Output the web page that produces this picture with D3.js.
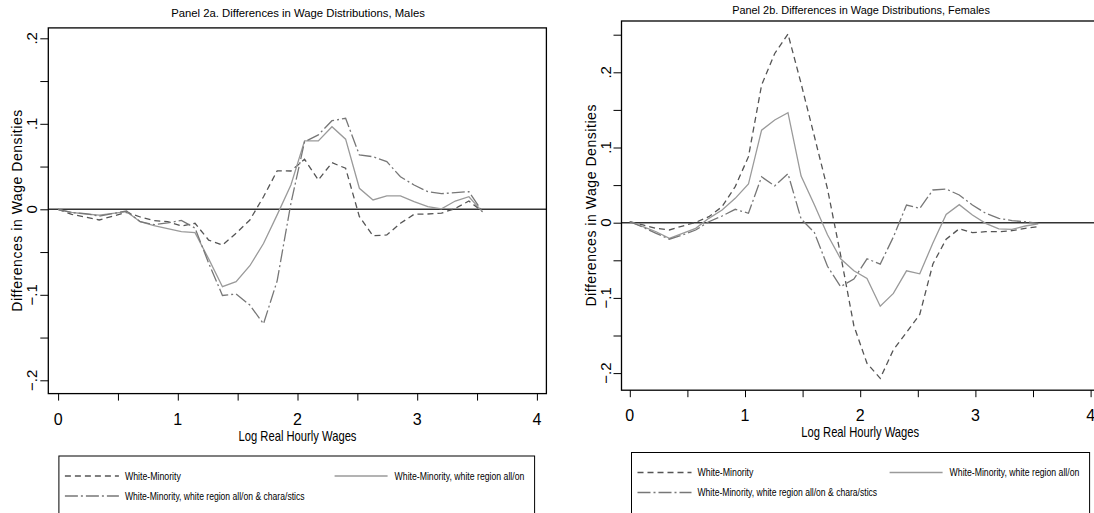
<!DOCTYPE html>
<html>
<head>
<meta charset="utf-8">
<script src="https://cdn.jsdelivr.net/npm/d3@7"></script>
<style>
  body { margin: 0; background: #fff; }
  text { font-family: "Liberation Sans", Arial, Helvetica, sans-serif; fill: #000; }
</style>
</head>
<body>
<script>
// grid of log real hourly wages where the densities were evaluated
var wages = [0, 0.114, 0.229, 0.343, 0.458, 0.572, 0.686, 0.801, 0.915, 1.03, 1.144, 1.258,
  1.373, 1.487, 1.602, 1.716, 1.83, 1.945, 2.059, 2.174, 2.288, 2.402, 2.517, 2.631,
  2.746, 2.86, 2.974, 3.089, 3.203, 3.318, 3.432, 3.546];

var seriesNames = [
  "White-Minority",
  "White-Minority, white region all/on",
  "White-Minority, white region all/on & chara/stics",
];

// Panel 2a, males
var maleRaw = [0, -0.006, -0.009, -0.0125, -0.008, -0.0035, -0.009, -0.0133, -0.0145, -0.0195, -0.0164, -0.036,
  -0.0418, -0.028, -0.0125, 0.0147, 0.045, 0.0448, 0.0585, 0.0343, 0.0545, 0.048, -0.0086, -0.031,
  -0.03, -0.0164, -0.0058, -0.0055, -0.0045, 0.001, 0.0097, -0.0028];
var maleRegion = [0, -0.0035, -0.0055, -0.0067, -0.0047, -0.0028, -0.0145, -0.019, -0.0225, -0.026, -0.0273, -0.058,
  -0.0905, -0.0847, -0.066, -0.04, -0.0065, 0.0284, 0.08, 0.08, 0.0966, 0.082, 0.0246, 0.0109,
  0.0156, 0.0156, 0.0089, 0.003, 0.0005, 0.0097, 0.0147, -0.003];
var maleChars = [0, -0.004, -0.005, -0.008, -0.005, -0.002, -0.0145, -0.018, -0.016, -0.013, -0.022, -0.063,
  -0.1008, -0.099, -0.112, -0.134, -0.0837, 0.007, 0.079, 0.087, 0.1036, 0.1064, 0.0635, 0.0615,
  0.0557, 0.038, 0.0284, 0.0206, 0.0183, 0.0195, 0.0206, -0.003];

// Panel 2b, females
var femaleRaw = [0.0013, -0.003, -0.0075, -0.0097, -0.0044, 0.0005, 0.008, 0.0213, 0.048, 0.0878, 0.183, 0.225,
  0.251, 0.185, 0.115, 0.045, -0.043, -0.137, -0.187, -0.207, -0.169, -0.146, -0.122, -0.055,
  -0.022, -0.008, -0.0132, -0.012, -0.012, -0.0106, -0.0075, -0.0053];
var femaleRegion = [0.0013, -0.0053, -0.012, -0.0208, -0.0141, -0.0075, 0.0058, 0.0169, 0.0324, 0.0514, 0.123, 0.1366,
  0.1463, 0.062, 0.024, -0.016, -0.048, -0.064, -0.074, -0.111, -0.094, -0.064, -0.068, -0.027,
  0.011, 0.024, 0.0102, -0.0009, -0.0082, -0.0088, -0.0044, -0.0017];
var femaleChars = [0.0013, -0.006, -0.0141, -0.022, -0.0164, -0.0097, 0.0013, 0.0089, 0.0178, 0.0125, 0.061, 0.049,
  0.0652, 0.005, -0.013, -0.058, -0.085, -0.075, -0.048, -0.055, -0.019, 0.0235, 0.019, 0.0435,
  0.0448, 0.0368, 0.0235, 0.0125, 0.0058, 0.0027, 0.0013, -0.0008];

var xTicks = [0, 0.5, 1, 1.5, 2, 2.5, 3, 3.5, 4];
var xLabels = [0, 1, 2, 3, 4];
var maleYTicks = [-0.2, -0.15, -0.1, -0.05, 0, 0.05, 0.1, 0.15, 0.2];
var femaleYTicks = [-0.2, -0.15, -0.1, -0.05, 0, 0.05, 0.1, 0.15, 0.2, 0.25];
var yLabels = [-0.2, -0.1, 0, 0.1, 0.2];

var lineStyles = [
  { color: "#555", dash: "6,4", width: 1.3 },
  { color: "#9a9a9a", dash: null, width: 1.3 },
  { color: "#777", dash: "13,3,2,3", width: 1.3 },
];

var svg = d3.select("body").append("svg").attr("width", 1094).attr("height", 513);

function yFmt(d) {
  if (d == 0) return "0";
  return d3.format(".1f")(d).replace("0.", ".");
}

// narrow text: squeeze horizontally so it takes the width seen in the picture
// anchor: "start" -> x is left edge, "middle" -> x is centre
function narrowText(parent, txt, x, y, size, w, anchor) {
  var t = parent.append("text")
    .attr("font-size", size)
    .attr("text-anchor", anchor)
    .text(txt);
  var natural = t.node().getComputedTextLength();
  var k = w / natural;
  t.attr("transform", "translate(" + x + "," + y + ") scale(" + k + ",1)");
  return t;
}

function drawPanel(p) {
  // p.frame = [left, top, right, bottom]
  var left = p.frame[0], top = p.frame[1], right = p.frame[2], bottom = p.frame[3];

  var x = d3.scaleLinear().domain([0, 4]).range([p.x0, p.x4]);
  var y = d3.scaleLinear().domain([-0.2, 0.2]).range([p.yLow, p.yHigh]);

  var g = svg.append("g");

  narrowText(g, p.title, p.titleX, p.titleY, 11.5, p.titleW, "middle");

  var clip = "clip" + p.id;
  g.append("clipPath").attr("id", clip)
    .append("rect").attr("x", left).attr("y", top).attr("width", right - left).attr("height", bottom - top);

  // zero reference line
  g.append("line")
    .attr("x1", left).attr("x2", right)
    .attr("y1", y(0)).attr("y2", y(0))
    .attr("stroke", "#333").attr("stroke-width", 1.6);

  var line = d3.line()
    .x(function (d) { return x(d[0]); })
    .y(function (d) { return y(d[1]); });

  p.series.forEach(function (s, i) {
    var pts = wages.map(function (w, j) { return [w, s[j]]; });
    g.append("path")
      .attr("d", line(pts))
      .attr("fill", "none")
      .attr("clip-path", "url(#" + clip + ")")
      .attr("stroke", lineStyles[i].color)
      .attr("stroke-width", lineStyles[i].width)
      .attr("stroke-dasharray", lineStyles[i].dash);
  });

  g.append("rect")
    .attr("x", left).attr("y", top)
    .attr("width", right - left).attr("height", bottom - top)
    .attr("fill", "none").attr("stroke", "#000").attr("stroke-width", 1.3);

  // y axis
  var yAxis = d3.axisLeft(y).tickValues(p.yTicks).tickSize(8).tickFormat("");
  var ya = g.append("g").attr("transform", "translate(" + left + ",0)").call(yAxis);
  ya.select(".domain").remove();
  ya.selectAll("line").attr("stroke", "#000");

  g.selectAll(".ylab")
    .data(yLabels)
    .enter()
    .append("text")
    .attr("class", "ylab")
    .attr("text-anchor", "middle")
    .attr("font-size", 15)
    .attr("transform", function (d) {
      return "translate(" + (left - 11) + "," + y(d) + ") rotate(-90)";
    })
    .text(yFmt);

  g.append("text")
    .attr("text-anchor", "middle")
    .attr("font-size", 14)
    .attr("textLength", 202)
    .attr("lengthAdjust", "spacing")
    .attr("transform", "translate(" + (left - 26) + "," + (top + bottom) / 2 + ") rotate(-90)")
    .text("Differences in Wage Densities");

  // x axis
  var xAxis = d3.axisBottom(x).tickValues(xTicks).tickSize(7).tickFormat("");
  var xa = g.append("g").attr("transform", "translate(0," + bottom + ")").call(xAxis);
  xa.select(".domain").remove();
  xa.selectAll("line").attr("stroke", "#000");

  g.selectAll(".xlab")
    .data(xLabels)
    .enter()
    .append("text")
    .attr("class", "xlab")
    .attr("x", function (d) { return x(d); })
    .attr("y", bottom + 31)
    .attr("text-anchor", "middle")
    .attr("font-size", 16)
    .text(function (d) { return d; });

  narrowText(g, "Log Real Hourly Wages", x(2), bottom + 47, 14.5, 118, "middle");

  // legend
  var lg = g.append("g").attr("transform", "translate(" + p.legend[0] + "," + p.legend[1] + ")");
  var lw = p.legend[2];
  lg.append("rect")
    .attr("x", 0).attr("y", 0).attr("width", lw).attr("height", 120)
    .attr("fill", "none").attr("stroke", "#000").attr("stroke-width", 1);

  var entries = [
    { x1: 6, x2: 60, tx: 66, ty: 20, w: 56 },
    { x1: lw - 200, x2: lw - 147, tx: lw - 140, ty: 20, w: 130 },
    { x1: 6, x2: 60, tx: 66, ty: 40, w: 180 },
  ];
  entries.forEach(function (e, i) {
    lg.append("line")
      .attr("x1", e.x1).attr("x2", e.x2).attr("y1", e.ty).attr("y2", e.ty)
      .attr("stroke", lineStyles[i].color)
      .attr("stroke-width", lineStyles[i].width)
      .attr("stroke-dasharray", lineStyles[i].dash);
    narrowText(lg, seriesNames[i], e.tx, e.ty + 3.5, 10.5, e.w, "start");
  });
}

drawPanel({
  id: "a",
  title: "Panel 2a. Differences in Wage Distributions, Males",
  titleX: 298, titleY: 17, titleW: 254,
  frame: [48.3, 27.9, 546.4, 393.6],
  x0: 58.1, x4: 536.9, yLow: 380.3, yHigh: 38.3,
  yTicks: maleYTicks,
  series: [maleRaw, maleRegion, maleChars],
  legend: [58.9, 456, 475.7],
});

drawPanel({
  id: "b",
  title: "Panel 2b. Differences in Wage Distributions, Females",
  titleX: 861, titleY: 14, titleW: 258,
  frame: [621.5, 21, 1100, 390.2],
  x0: 629.8, x4: 1090.6, yLow: 373.1, yHigh: 72.3,
  yTicks: femaleYTicks,
  series: [femaleRaw, femaleRegion, femaleChars],
  legend: [631.5, 452.5, 458.1],
});
</script>
</body>
</html>
